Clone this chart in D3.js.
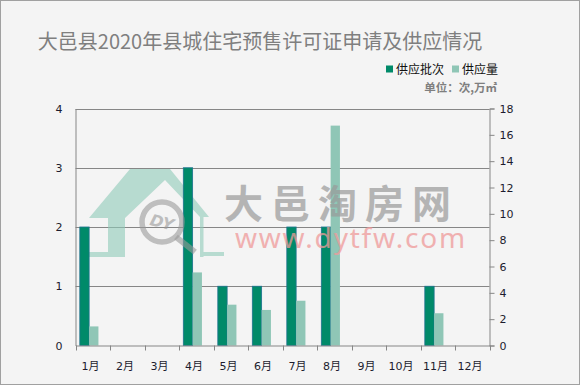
<!DOCTYPE html>
<html>
<head>
<meta charset="utf-8">
<script src="https://d3js.org/d3.v7.min.js"></script>
<style>
    body { margin: 0; padding: 0; background: #f4f4f4; }
    svg text { font-family: "DejaVu Sans", "Noto Sans CJK SC", sans-serif; }
</style>
</head>
<body>
<div id="chart"></div>
<script>
    // data
    const months = ["1月", "2月", "3月", "4月", "5月", "6月", "7月", "8月", "9月", "10月", "11月", "12月"];
    const batches = [2, 0, 0, 3, 1, 1, 2, 2, 0, 0, 1, 0];          // 供应批次 (left axis)
    const supply = [1.45, 0, 0, 5.55, 3.1, 2.7, 3.4, 16.7, 0, 0, 2.45, 0]; // 供应量 (right axis)
    const leftTicks = [0, 1, 2, 3, 4];
    const rightTicks = [0, 2, 4, 6, 8, 10, 12, 14, 16, 18];

    const W = 580, H = 385;
    const plot = { left: 75.5, right: 489.5, top: 108.5, bottom: 345.5 };
    const darkGreen = "#008a69", lightGreen = "#8fc6b6", axisGray = "#868686";

    const svg = d3.select("#chart").append("svg")
        .attr("width", W).attr("height", H);

    svg.append("rect")
        .attr("x", 0.5).attr("y", 0.5)
        .attr("width", W - 1).attr("height", H - 1)
        .attr("fill", "#f4f4f4").attr("stroke", "#a0a0a0");

    // title
    svg.append("text")
        .attr("x", 260).attr("y", 49)
        .attr("text-anchor", "middle")
        .style("font-family", "'Noto Sans CJK SC', sans-serif")
        .style("font-size", "20px")
        .attr("fill", "#7f7f7f")
        .text("大邑县2020年县城住宅预售许可证申请及供应情况");

    const x = d3.scaleBand().domain(months).range([plot.left, plot.right]).paddingInner(0).paddingOuter(0);
    const yL = d3.scaleLinear().domain([0, 4]).range([plot.bottom, plot.top]);
    const yR = d3.scaleLinear().domain([0, 18]).range([plot.bottom, plot.top]);

    // gridlines
    svg.append("g").selectAll("line")
        .data(leftTicks.filter(d => d > 0))
        .join("line")
        .attr("x1", plot.left).attr("x2", plot.right)
        .attr("y1", d => Math.round(yL(d)) + 0.5).attr("y2", d => Math.round(yL(d)) + 0.5)
        .attr("stroke", axisGray);

    // watermark: house logo (behind bars)
    const house = svg.append("g").attr("fill", "#8fcbb9").attr("opacity", 0.6);
    house.append("path")
        .attr("d", "M89,218 L130,169 L170,169 L209,217 L200,217 L165,180 L125,218 Z");
    house.append("rect").attr("x", 108).attr("y", 218).attr("width", 17).attr("height", 39);
    house.append("rect").attr("x", 89).attr("y", 252).attr("width", 19).attr("height", 5);
    house.append("rect").attr("x", 200).attr("y", 217).attr("width", 3.5).attr("height", 40);
    house.append("rect").attr("x", 203).attr("y", 252).attr("width", 21).attr("height", 4);

    // bars
    const bw = x.bandwidth() * 0.27;
    const off = x.bandwidth() * 0.125;

    svg.append("g").selectAll("rect")
        .data(months.map((m, i) => ({ m, v: batches[i] })).filter(d => d.v > 0))
        .join("rect")
        .attr("x", d => x(d.m) + off)
        .attr("y", d => yL(d.v))
        .attr("width", bw)
        .attr("height", d => plot.bottom - yL(d.v))
        .attr("fill", darkGreen)
        .attr("stroke", "#1f7390").attr("stroke-width", 0.8);

    svg.append("g").selectAll("rect")
        .data(months.map((m, i) => ({ m, v: supply[i] })).filter(d => d.v > 0))
        .join("rect")
        .attr("x", d => x(d.m) + off + bw)
        .attr("y", d => yR(d.v))
        .attr("width", bw)
        .attr("height", d => plot.bottom - yR(d.v))
        .attr("fill", lightGreen);

    // watermark: magnifier and site name
    const wm = svg.append("g").attr("pointer-events", "none");
    wm.append("circle")
        .attr("cx", 162).attr("cy", 222).attr("r", 20)
        .attr("fill", "none").attr("stroke", "#999").attr("stroke-width", 5.5).attr("opacity", 0.6);
    wm.append("line")
        .attr("x1", 176).attr("y1", 237).attr("x2", 195).attr("y2", 252)
        .attr("stroke", "#999").attr("stroke-width", 6).attr("opacity", 0.6);
    wm.append("text")
        .attr("x", 162).attr("y", 228)
        .attr("text-anchor", "middle")
        .attr("transform", "rotate(15,162,222)")
        .style("font-size", "16px").style("font-style", "italic").style("font-weight", "bold")
        .attr("fill", "#999").attr("opacity", 0.6)
        .text("DY");
    wm.append("text")
        .attr("x", 224).attr("y", 218)
        .style("font-family", "'Noto Sans CJK SC', sans-serif")
        .style("font-size", "39px").style("font-weight", "bold")
        .style("letter-spacing", "8px")
        .attr("fill", "#9a9a9a").attr("opacity", 0.7)
        .text("大邑淘房网");
    wm.append("text")
        .attr("x", 235).attr("y", 248)
        .style("font-family", "'Noto Sans', sans-serif")
        .style("font-size", "28px")
        .style("letter-spacing", "1.8px")
        .attr("fill", "#ef9a9a").attr("opacity", 0.75)
        .text("www.dytfw.com");

    // axes
    const axL = svg.append("g").attr("transform", `translate(${plot.left},0)`)
        .call(d3.axisLeft(yL).tickValues(leftTicks).tickFormat(d3.format("d")).tickSize(0).tickPadding(13));
    const axR = svg.append("g").attr("transform", `translate(${plot.right},0)`)
        .call(d3.axisRight(yR).tickValues(rightTicks).tickSize(5).tickPadding(5));
    const axB = svg.append("g").attr("transform", `translate(0,${plot.bottom})`)
        .call(d3.axisBottom(x).tickSize(0).tickPadding(17));

    // band boundary ticks on the bottom axis
    svg.append("g").selectAll("line")
        .data(months.concat(["end"]))
        .join("line")
        .attr("x1", (d, i) => Math.round(plot.left + i * x.bandwidth()) + 0.5)
        .attr("x2", (d, i) => Math.round(plot.left + i * x.bandwidth()) + 0.5)
        .attr("y1", plot.bottom).attr("y2", plot.bottom + 5)
        .attr("stroke", axisGray);

    [axL, axR, axB].forEach(a => {
        a.select(".domain").attr("stroke", axisGray);
        a.selectAll(".tick line").attr("stroke", axisGray);
        a.selectAll("text").attr("fill", "#1c1c2e").style("font-size", "11px");
    });
    axB.selectAll("text").attr("dx", "-0.2em");

    // legend
    const legend = [["供应批次", darkGreen, 386], ["供应量", lightGreen, 452]];
    legend.forEach(([label, color, lx]) => {
        svg.append("rect").attr("x", lx).attr("y", 65.5).attr("width", 7).attr("height", 7).attr("fill", color);
        svg.append("text").attr("x", lx + 10).attr("y", 74)
            .style("font-family", "'Noto Sans CJK SC', sans-serif")
            .style("font-size", "12px").attr("fill", "#111").text(label);
    });
    svg.append("text")
        .attr("x", 497).attr("y", 91.5).attr("text-anchor", "end")
        .style("font-family", "'Noto Sans CJK SC', sans-serif")
        .style("font-size", "11.5px").style("font-weight", "bold")
        .attr("fill", "#7f7f7f")
        .text("单位：次,万㎡");
</script>
</body>
</html>
